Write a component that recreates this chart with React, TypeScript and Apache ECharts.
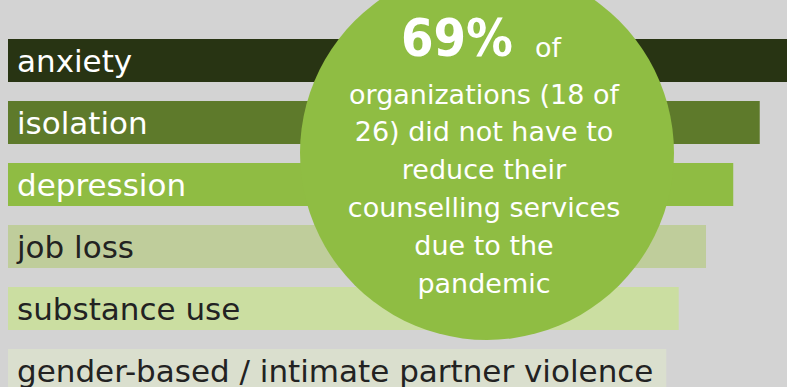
import React, { useEffect, useRef } from "react";
import * as echarts from "echarts";

const categories = ["anxiety", "isolation", "depression", "job loss", "substance use", "gender-based / intimate partner violence"];
const values = [100, 96.5, 93.1, 89.6, 86.1, 84.5];
const barColors = ["#283413", "#5e7a2b", "#8fbc43", "#bfcd9b", "#cbdea1", "#dadfce"];
const labelColors = ["#ffffff", "#ffffff", "#ffffff", "#222222", "#222222", "#222222"];
const headline = "69%";
const headlineTail = "of";
const calloutLines = ["organizations (18 of", "26) did not have to", "reduce their", "counselling services", "due to the", "pandemic"];

const FONT = "DejaVu Sans";
const FONT_C = "DejaVu Sans Condensed";

export default function App() {
  const ref = useRef<HTMLDivElement>(null);
  useEffect(() => {
    if (!ref.current) return;
    const chart = echarts.init(ref.current, null, { renderer: "svg" });
    const cx = 487, cy = 153, r = 187, tx = 484;
    const lineTexts = calloutLines.map((t, i) => ({
      type: "text",
      z: 101,
      x: tx,
      y: 94 + i * 37.8,
      style: {
        text: t,
        fill: "#ffffff",
        font: `27px "${FONT}"`,
        align: "center",
        verticalAlign: "middle",
      },
    }));
    chart.setOption({
      animation: false,
      backgroundColor: "#d3d3d3",
      grid: { left: 8, right: 0, top: 29.5, height: 372, outerBoundsMode: "none", containLabel: false },
      xAxis: { type: "value", min: 0, max: 100, show: false },
      yAxis: {
        type: "category",
        data: categories,
        inverse: true,
        show: false,
      },
      series: [
        {
          type: "bar",
          barWidth: 43,
          data: values.map((v, i) => ({
            value: v,
            itemStyle: { color: barColors[i] },
            label: { color: labelColors[i] },
          })),
          label: {
            show: true,
            position: "insideLeft",
            distance: 9,
            formatter: (p: any) => p.name,
            fontFamily: FONT,
            fontSize: 31,
          },
        },
      ],
      graphic: [
        {
          type: "circle",
          z: 100,
          shape: { cx, cy, r },
          style: { fill: "#8fbd43" },
        },
        {
          type: "text",
          z: 101,
          x: 513,
          y: 38,
          style: {
            text: headline,
            align: "right",
            verticalAlign: "middle",
            fill: "#ffffff",
            font: `bold 52px "${FONT_C}"`,
          },
        },
        {
          type: "text",
          z: 101,
          x: 535,
          y: 47,
          style: {
            text: headlineTail,
            align: "left",
            verticalAlign: "middle",
            fill: "#ffffff",
            font: `27px "${FONT}"`,
          },
        },
        ...lineTexts,
      ],
    });
    return () => chart.dispose();
  }, []);
  return <div ref={ref} style={{ position: "fixed", left: 0, top: 0, width: 787, height: 387 }} />;
}
